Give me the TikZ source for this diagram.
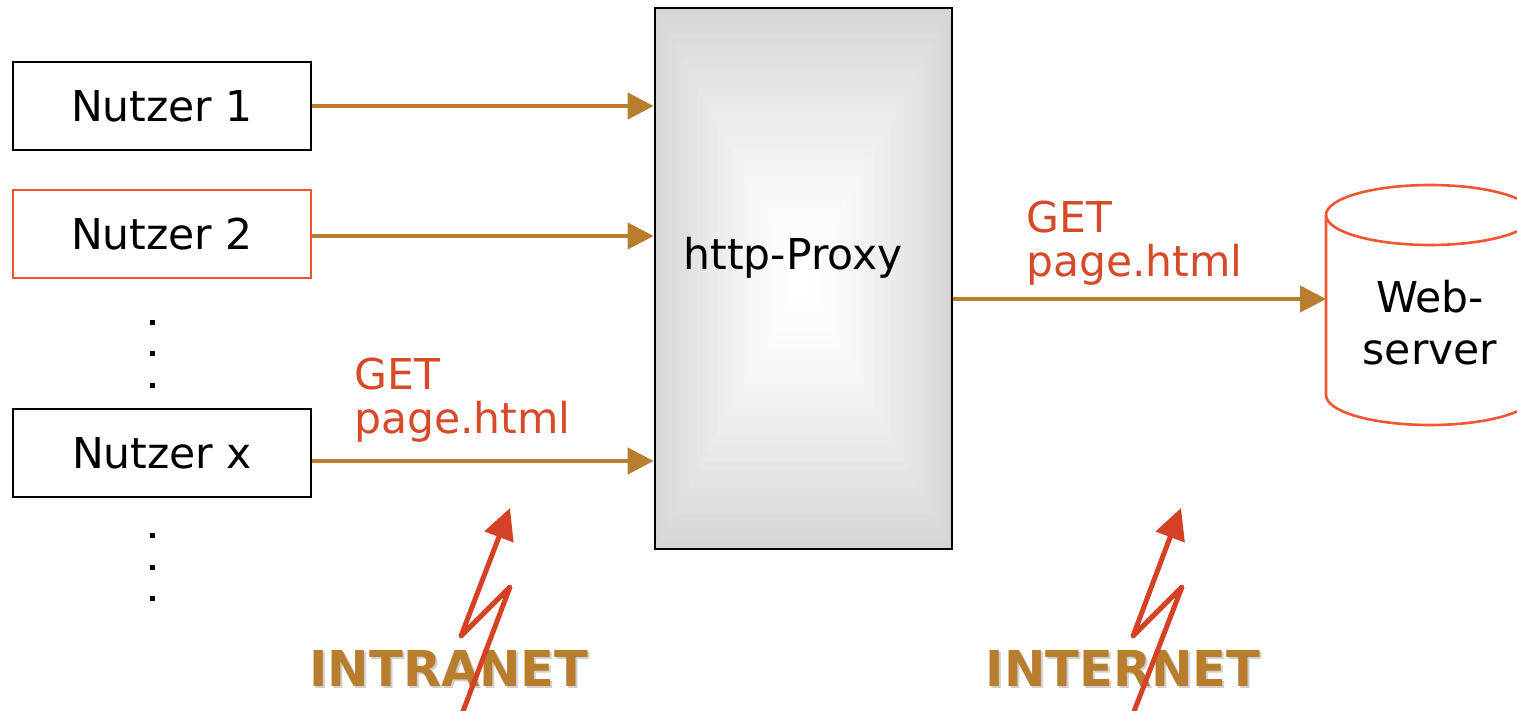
\documentclass[tikz,border=0pt]{standalone}
\usepackage{fontspec}
\setmainfont{DejaVu Sans}
\usetikzlibrary{arrows.meta,calc}

\definecolor{flowbrown}{HTML}{B97D2E}
\definecolor{reqred}{HTML}{D64A28}
\definecolor{boltred}{HTML}{D44125}
\definecolor{edgered}{HTML}{F25530}
\definecolor{shadowgray}{HTML}{CFCFCF}

\tikzset{
  bigtext/.style={font=\fontsize{42.5}{44}\selectfont},
  userbox/.style={bigtext, draw, line width=2.8pt, minimum width=298pt,
    minimum height=88pt, inner sep=0pt},
  flow/.style={draw=flowbrown, line width=4.5pt,
    -{Triangle[length=26pt,width=26pt]}},
  reqlabel/.style={bigtext, text=reqred, align=left, anchor=north west, inner sep=0pt},
  zonelabel/.style={font=\fontsize{49.5}{50}\selectfont\bfseries, text=flowbrown, inner sep=0pt},
  zoneshadow/.style={font=\fontsize{49.5}{50}\selectfont\bfseries, text=shadowgray, inner sep=0pt},
  bolt/.style={draw=boltred, line width=5pt, line join=round,
    -{Triangle[length=31pt,width=30pt]}},
  dotmark/.style={fill=black, minimum size=5pt, inner sep=0pt}
}

\begin{document}
\begin{tikzpicture}[x=1pt,y=-1pt]
  \useasboundingbox (0,0) rectangle (1517,710);

  % proxy body: rectangular gradient from grey edges to a white centre
  \foreach \i in {0,...,30}{
    \pgfmathsetmacro\f{1-\i/31}
    \pgfmathsetmacro\g{16*(1-\i/30)^1.4}
    \fill[black!\g] (803.5-148.5*\f, 278.5-270.5*\f) rectangle (803.5+148.5*\f, 278.5+270.5*\f);
  }
  \node[draw, line width=2.8pt, minimum width=297pt, minimum height=541pt, inner sep=0pt]
    (proxy) at (803.5,278.5) {};
  \node[bigtext, inner sep=0pt] (proxylabel) at (793,258) {http-Proxy};

  % users
  \node[userbox] (n1) at (162,106) {Nutzer 1};
  \node[userbox, draw=edgered] (n2) at (162,234) {Nutzer 2};
  \node[userbox] (nx) at (162,453) {Nutzer x};

  % ellipsis dots between and below the users
  \foreach \y [count=\k] in {322,353,385,535,567,598}
    \node[dotmark] (dot\k) at (152,\y) {};

  % web server cylinder
  \draw[edgered, line width=2.6pt, fill=white]
    (1326,215) -- (1326,395)
    arc[start angle=180, end angle=360, x radius=104pt, y radius=30pt]
    -- (1534,215);
  \draw[edgered, line width=2.6pt] (1430,215) ellipse[x radius=104pt, y radius=30pt];
  \node[bigtext, align=center, anchor=north, inner sep=0pt]
    (web) at (1430,280) {Web-\\[8pt]server};
  \coordinate (webin) at (1326,299);

  % requests
  \draw[flow] (n1.east) -- (n1.east -| proxy.west);
  \draw[flow] ([yshift=-2pt]n2.east) -- ([yshift=-2pt]n2.east -| proxy.west);
  \draw[flow] ([yshift=-8pt]nx.east) -- ([yshift=-8pt]nx.east -| proxy.west);
  \draw[flow] (proxy.east |- webin) -- (webin);

  \node[reqlabel] (getin) at (354,358) {GET\\page.html};
  \node[reqlabel] (getout) at (1026,201) {GET\\page.html};

  % zone captions with drop shadow
  \node[zoneshadow] (intranetsh) at (451,670) {INTRANET};
  \node[zonelabel] (intranet) at (449,668) {INTRANET};
  \node[zoneshadow] (internetsh) at (1125,670) {INTERNET};
  \node[zonelabel] (internet) at (1123,668) {INTERNET};

  % lightning bolts
  \draw[bolt] (462,714) -- (510,587) -- (461,636) -- (510,508);
  \draw[bolt] (1133,714) -- (1182,587) -- (1133,636) -- (1181,508);
\end{tikzpicture}
\end{document}
